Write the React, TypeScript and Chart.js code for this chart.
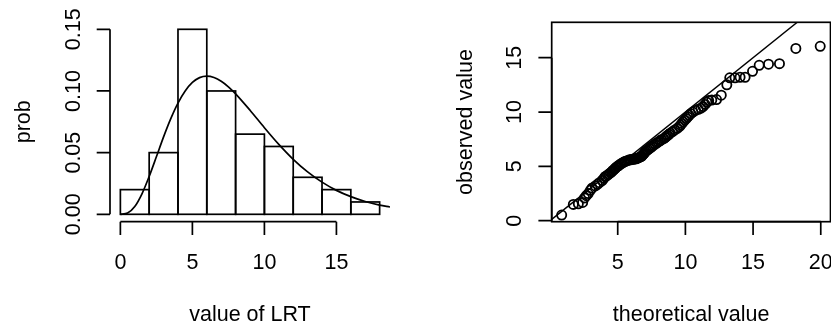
import React, { useEffect, useRef } from "react";
import { Chart, registerables } from "chart.js";

Chart.register(...registerables);

// ---------- Left panel: histogram of LRT values + density curve ----------
const binEdges = [0, 2, 4, 6, 8, 10, 12, 14, 16, 18];
const binDensity = [0.02, 0.05, 0.15, 0.1, 0.065, 0.055, 0.03, 0.02, 0.01];

const curveX = [0, 0.5, 1, 1.5, 2, 2.5, 3, 3.5, 4, 4.5, 5, 5.5, 6, 6.5, 7, 7.5, 8, 9, 10, 11, 12, 13, 14, 15, 16, 17, 18, 18.72];
const curveY = [0, 0.001, 0.0063, 0.0166, 0.0307, 0.0466, 0.0628, 0.0776, 0.0902, 0.1, 0.1069, 0.1108, 0.112, 0.1109, 0.1079, 0.1034, 0.0977, 0.0844, 0.0702, 0.0567, 0.0446, 0.0344, 0.0261, 0.0194, 0.0143, 0.0104, 0.0075, 0.0059];

const histXTicks = [0, 5, 10, 15];
const histXTickLabels = ["0", "5", "10", "15"];
const histYTicks = [0, 0.05, 0.1, 0.15];
const histYTickLabels = ["0.00", "0.05", "0.10", "0.15"];
const histXTitle = "value of LRT";
const histYTitle = "prob";

// ---------- Right panel: QQ plot ----------
const theoretical = [
  0.86, 1.72, 2.09, 2.41, 2.55, 2.68, 2.82, 2.98, 3.1, 3.35,
  3.5, 3.65, 3.85, 3.98, 4.07, 4.14, 4.25, 4.36, 4.46, 4.55,
  4.63, 4.72, 4.8, 4.88, 4.98, 5.05, 5.15, 5.25, 5.33, 5.45,
  5.55, 5.65, 5.76, 5.87, 5.97, 6.08, 6.18, 6.28, 6.37, 6.46,
  6.55, 6.63, 6.71, 6.78, 6.85, 6.92, 6.98, 7.04, 7.13, 7.24,
  7.35, 7.45, 7.55, 7.65, 7.76, 7.88, 8.0, 8.12, 8.22, 8.4,
  8.5, 8.6, 8.68, 8.78, 8.88, 9.05, 9.22, 9.4, 9.55, 9.65,
  9.74, 9.84, 9.95, 10.06, 10.17, 10.28, 10.4, 10.55, 10.75, 10.95,
  11.15, 11.3, 11.45, 11.58, 11.72, 11.95, 12.3, 12.65, 13.06, 13.28,
  13.67, 14.04, 14.41, 14.96, 15.45, 16.14, 16.95, 18.16, 19.96,
];
const observed = [
  0.52, 1.5, 1.55, 1.68, 2.1, 2.3, 2.5, 2.8, 3.0, 3.2,
  3.35, 3.5, 3.7, 3.9, 4.05, 4.1, 4.2, 4.3, 4.4, 4.5,
  4.6, 4.7, 4.8, 4.9, 5.0, 5.05, 5.15, 5.25, 5.3, 5.4,
  5.45, 5.5, 5.55, 5.6, 5.6, 5.65, 5.65, 5.7, 5.7, 5.75,
  5.8, 5.85, 5.9, 5.95, 6.05, 6.15, 6.25, 6.35, 6.45, 6.55,
  6.65, 6.75, 6.85, 6.95, 7.05, 7.15, 7.25, 7.35, 7.45, 7.55,
  7.65, 7.75, 7.85, 7.95, 8.05, 8.2, 8.35, 8.5, 8.65, 8.8,
  8.95, 9.1, 9.25, 9.4, 9.55, 9.7, 9.85, 10.0, 10.15, 10.25,
  10.35, 10.5, 10.7, 10.9, 11.05, 11.1, 11.15, 11.55, 12.5, 13.15,
  13.15, 13.2, 13.2, 13.75, 14.3, 14.4, 14.45, 15.85, 16.05,
];
const qqXTicks = [5, 10, 15, 20];
const qqXTickLabels = ["5", "10", "15", "20"];
const qqYTicks = [0, 5, 10, 15];
const qqYTickLabels = ["0", "5", "10", "15"];
const qqXTitle = "theoretical value";
const qqYTitle = "observed value";
const refIntercept = 0;
const refSlope = 1;

// ---------- styling ----------
const FONT = '21.5px "Liberation Sans", Arial, Helvetica, sans-serif';
const LW = 1.7;
const TICK = 13.3;
const W_LEFT = 415;
const W_RIGHT = 416;
const H = 326;

type AxisSpec = {
  xTicks: number[];
  xLabels: string[];
  yTicks: number[];
  yLabels: string[];
  xTitle: string;
  yTitle: string;
  box: boolean;
};

function makeAxesPlugin(spec: AxisSpec) {
  return {
    id: "rAxes",
    afterDraw(chart: any) {
      const { ctx, chartArea: a, scales } = chart;
      const xs = scales.x;
      const ys = scales.y;
      ctx.save();
      ctx.strokeStyle = "#000";
      ctx.fillStyle = "#000";
      ctx.lineWidth = LW;
      ctx.lineCap = "butt";
      ctx.font = FONT;
      if (spec.box) {
        ctx.strokeRect(a.left, a.top, a.right - a.left, a.bottom - a.top);
      }
      // x axis
      const xp = spec.xTicks.map((v) => xs.getPixelForValue(v));
      ctx.beginPath();
      ctx.moveTo(xp[0], a.bottom);
      ctx.lineTo(xp[xp.length - 1], a.bottom);
      xp.forEach((p) => {
        ctx.moveTo(p, a.bottom);
        ctx.lineTo(p, a.bottom + TICK);
      });
      ctx.stroke();
      // y axis
      const yp = spec.yTicks.map((v) => ys.getPixelForValue(v));
      ctx.beginPath();
      ctx.moveTo(a.left, yp[0]);
      ctx.lineTo(a.left, yp[yp.length - 1]);
      yp.forEach((p) => {
        ctx.moveTo(a.left, p);
        ctx.lineTo(a.left - TICK, p);
      });
      ctx.stroke();
      // labels
      ctx.textAlign = "center";
      ctx.textBaseline = "alphabetic";
      xp.forEach((p, i) => ctx.fillText(spec.xLabels[i], p, a.bottom + 47.5));
      ctx.fillText(spec.xTitle, (a.left + a.right) / 2, a.bottom + 99.5);
      yp.forEach((p, i) => {
        ctx.save();
        ctx.translate(a.left - 30.5, p);
        ctx.rotate(-Math.PI / 2);
        ctx.fillText(spec.yLabels[i], 0, 0);
        ctx.restore();
      });
      ctx.save();
      ctx.translate(a.left - 80, (a.top + a.bottom) / 2);
      ctx.rotate(-Math.PI / 2);
      ctx.fillText(spec.yTitle, 0, 0);
      ctx.restore();
      ctx.restore();
    },
  };
}

const barOutlinePlugin = {
  id: "barOutline",
  afterDatasetsDraw(chart: any) {
    const meta = chart.getDatasetMeta(0);
    const ctx = chart.ctx;
    ctx.save();
    ctx.strokeStyle = "#000";
    ctx.lineWidth = LW;
    meta.data.forEach((el: any) => {
      const { x, y, base, width } = el.getProps(["x", "y", "base", "width"], true);
      ctx.strokeRect(x - width / 2, y, width, base - y);
    });
    ctx.restore();
  },
};

function HistPanel() {
  const ref = useRef<HTMLCanvasElement | null>(null);
  useEffect(() => {
    if (!ref.current) return;
    const bars = binDensity.map((d, i) => ({ x: (binEdges[i] + binEdges[i + 1]) / 2, y: d }));
    const curve = curveX.map((x, i) => ({ x, y: curveY[i] }));
    const chart = new Chart(ref.current, {
      type: "bar",
      data: {
        datasets: [
          {
            type: "bar",
            data: bars as any,
            backgroundColor: "rgba(0,0,0,0)",
            borderWidth: 0,
            categoryPercentage: 1,
            barPercentage: 1,
          } as any,
          {
            type: "line",
            data: curve as any,
            borderColor: "#000",
            borderWidth: LW,
            pointRadius: 0,
            pointHoverRadius: 0,
            fill: false,
            cubicInterpolationMode: "monotone",
          } as any,
        ],
      },
      options: {
        responsive: false,
        animation: false,
        events: [],
        layout: {
          autoPadding: false,
          padding: { left: 110, right: W_LEFT - 390, top: 21.9, bottom: H - 221.7 },
        },
        plugins: { legend: { display: false }, tooltip: { enabled: false } },
        scales: {
          x: { type: "linear", min: -0.72, max: 18.72, offset: false, display: false },
          y: { type: "linear", min: -0.006, max: 0.156, display: false },
        },
      } as any,
      plugins: [
        barOutlinePlugin,
        makeAxesPlugin({
          xTicks: histXTicks,
          xLabels: histXTickLabels,
          yTicks: histYTicks,
          yLabels: histYTickLabels,
          xTitle: histXTitle,
          yTitle: histYTitle,
          box: false,
        }),
      ],
    });
    return () => chart.destroy();
  }, []);
  return (
    <canvas
      ref={ref}
      width={W_LEFT}
      height={H}
      style={{ position: "absolute", left: 0, top: 0, width: W_LEFT, height: H }}
    />
  );
}

function QQPanel() {
  const ref = useRef<HTMLCanvasElement | null>(null);
  useEffect(() => {
    if (!ref.current) return;
    const xMin = 0.123;
    const xMax = 20.72;
    const pts = theoretical.map((x, i) => ({ x, y: observed[i] }));
    const refLine = [xMin, xMax + 5].map((x) => ({ x, y: refIntercept + refSlope * x }));
    const chart = new Chart(ref.current, {
      type: "scatter",
      data: {
        datasets: [
          {
            type: "scatter",
            data: pts,
            pointStyle: "circle",
            pointRadius: 4.6,
            pointHoverRadius: 4.6,
            pointBorderWidth: 1.8,
            borderColor: "#000",
            backgroundColor: "rgba(0,0,0,0)",
            pointBackgroundColor: "rgba(0,0,0,0)",
            pointBorderColor: "#000",
          } as any,
          {
            type: "line",
            data: refLine,
            borderColor: "#000",
            borderWidth: 1.4,
            pointRadius: 0,
            pointHoverRadius: 0,
            fill: false,
          } as any,
        ],
      },
      options: {
        responsive: false,
        animation: false,
        events: [],
        layout: {
          autoPadding: false,
          padding: { left: 551.7 - 415, right: W_RIGHT - 415.5, top: 22.3, bottom: H - 221.7 },
        },
        plugins: { legend: { display: false }, tooltip: { enabled: false } },
        scales: {
          x: { type: "linear", min: xMin, max: xMax, display: false },
          y: { type: "linear", min: -0.092, max: 18.257, display: false },
        },
      } as any,
      plugins: [
        makeAxesPlugin({
          xTicks: qqXTicks,
          xLabels: qqXTickLabels,
          yTicks: qqYTicks,
          yLabels: qqYTickLabels,
          xTitle: qqXTitle,
          yTitle: qqYTitle,
          box: true,
        }),
      ],
    });
    return () => chart.destroy();
  }, []);
  return (
    <canvas
      ref={ref}
      width={W_RIGHT}
      height={H}
      style={{ position: "absolute", left: W_LEFT, top: 0, width: W_RIGHT, height: H }}
    />
  );
}

export default function App() {
  return (
    <div
      style={{
        position: "fixed",
        left: 0,
        top: 0,
        width: W_LEFT + W_RIGHT,
        height: H,
        background: "#fff",
        overflow: "hidden",
      }}
    >
      <HistPanel />
      <QQPanel />
    </div>
  );
}
